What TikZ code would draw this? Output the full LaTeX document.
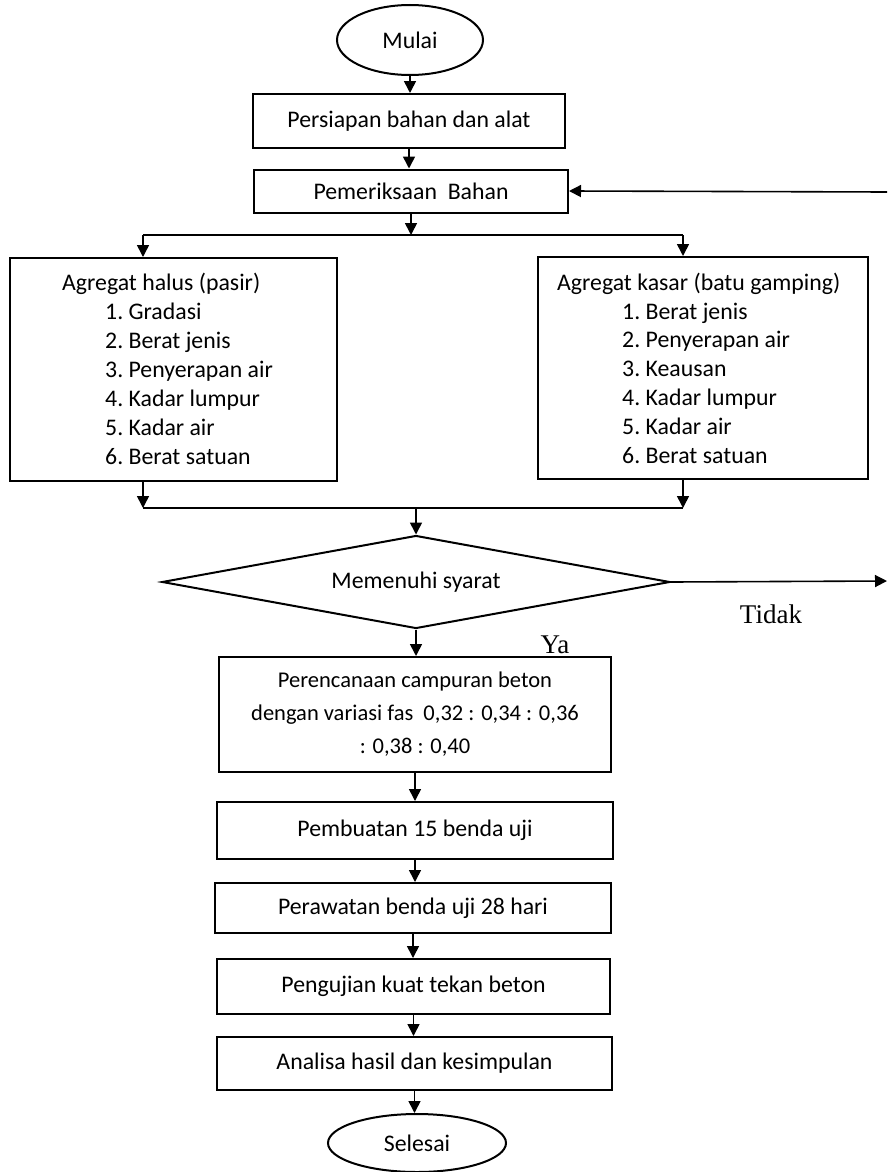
\documentclass[tikz,border=0pt]{standalone}
\usepackage{fontspec}
\setmainfont{Carlito}
\newfontfamily\tnr{Liberation Serif}
\usetikzlibrary{arrows.meta,shapes.geometric}
\begin{document}
\begin{tikzpicture}[x=1pt,y=-1pt,
  every node/.style={font=\fontsize{23.8}{29}\selectfont},
  box/.style={draw,line width=2pt,rectangle,inner sep=0pt},
  oval/.style={draw,line width=2pt,ellipse,inner sep=0pt},
  conn/.style={line width=1.6pt},
  arr/.style={line width=1.6pt,-{Triangle[width=12pt,length=12pt]}},
  itm/.style={anchor=base west,inner sep=0pt},
  lbl/.style={font=\tnr\fontsize{27}{30}\selectfont,inner sep=0pt}]
\useasboundingbox (0,0) rectangle (887,1172);
\fill[white] (0,0) rectangle (887,1172);

\node[oval,minimum width=146pt,minimum height=70pt] (mulai) at (410,40) {Mulai};
\node[box,minimum width=312pt,minimum height=54pt] (persiapan) at (409,121) {Persiapan bahan dan alat};
\node[box,minimum width=314pt,minimum height=43pt] (periksa) at (411,191) {Pemeriksaan\ \ Bahan};

\node[box,minimum width=327pt,minimum height=223pt] (halus) at (173.5,369.5) {};
\node[box,minimum width=330pt,minimum height=222pt] (kasar) at (703,368) {};

\node[itm] (h0) at (62,290) {Agregat halus (pasir)};
\node[itm] (h1) at (105,319) {1.\ Gradasi};
\node[itm] (h2) at (105,348) {2.\ Berat jenis};
\node[itm] (h3) at (105,377) {3.\ Penyerapan air};
\node[itm] (h4) at (105,406) {4.\ Kadar lumpur};
\node[itm] (h5) at (105,435) {5.\ Kadar air};
\node[itm] (h6) at (105,464) {6.\ Berat satuan};

\node[itm] (k0) at (557,290) {Agregat kasar (batu gamping)};
\node[itm] (k1) at (622,319) {1.\ Berat jenis};
\node[itm] (k2) at (622,347) {2.\ Penyerapan air};
\node[itm] (k3) at (622,376) {3.\ Keausan};
\node[itm] (k4) at (622,405) {4.\ Kadar lumpur};
\node[itm] (k5) at (622,434) {5.\ Kadar air};
\node[itm] (k6) at (622,463) {6.\ Berat satuan};

\node[diamond,draw,line width=2pt,inner sep=0pt,aspect=5.4,minimum width=508pt,minimum height=93pt] (syarat) at (416,582) {Memenuhi syarat};

\node[box,minimum width=392pt,minimum height=115pt,align=center,font=\fontsize{22.5}{33}\selectfont] (rencana) at (415,714.5) {Perencanaan campuran beton\\dengan variasi fas\ \ 0,32 : 0,34 : 0,36\\: 0,38 : 0,40};
\node[box,minimum width=396pt,minimum height=57pt] (buat) at (415,830.5) {Pembuatan 15 benda uji};
\node[box,minimum width=396pt,minimum height=50pt] (rawat) at (413,908) {Perawatan benda uji 28 hari};
\node[box,minimum width=393pt,minimum height=55pt] (uji) at (413.5,986.5) {Pengujian kuat tekan beton};
\node[box,minimum width=395pt,minimum height=53pt] (analisa) at (414.5,1063.5) {Analisa hasil dan kesimpulan};
\node[oval,minimum width=178pt,minimum height=58pt] (selesai) at (417,1143) {Selesai};

\node[lbl] (tidak) at (771,614) {Tidak};
\node[lbl] (ya) at (555,645) {Ya};

% coordinates
\coordinate (split) at (411,235);
\coordinate (hL) at (143,235);
\coordinate (kR) at (683,235);
\coordinate (jL) at (143,508);
\coordinate (jR) at (683,508);
\coordinate (jM) at (416,508);
\coordinate (tEnd) at (887,581);
\coordinate (fb) at (887,192);

% connectors
\draw[arr] (mulai.south) -- (mulai.south |- persiapan.north);
\draw[arr] (persiapan.south) -- (persiapan.south |- periksa.north);
\draw[arr] (periksa.south) -- (split);
\draw[conn] (hL) -- (kR);
\draw[arr] (hL) -- (hL |- halus.north);
\draw[arr] (kR) -- (kR |- kasar.north);
\draw[arr] (hL |- halus.south) -- (jL);
\draw[arr] (kR |- kasar.south) -- (jR);
\draw[conn] (jL) -- (jR);
\draw[arr] (jM) -- (syarat.north);
\draw[arr] (syarat.east) -- (tEnd);
\draw[arr] (fb) -- (periksa.east);
\draw[arr] (syarat.south) -- (syarat.south |- rencana.north);
\draw[arr] (rencana.south) -- (rencana.south |- buat.north);
\draw[arr] (buat.south) -- (buat.south |- rawat.north);
\draw[arr] (rawat.south) -- (rawat.south |- uji.north);
\draw[arr] (uji.south) -- (uji.south |- analisa.north);
\draw[arr] (analisa.south) -- (analisa.south |- selesai.north);
\end{tikzpicture}
\end{document}
